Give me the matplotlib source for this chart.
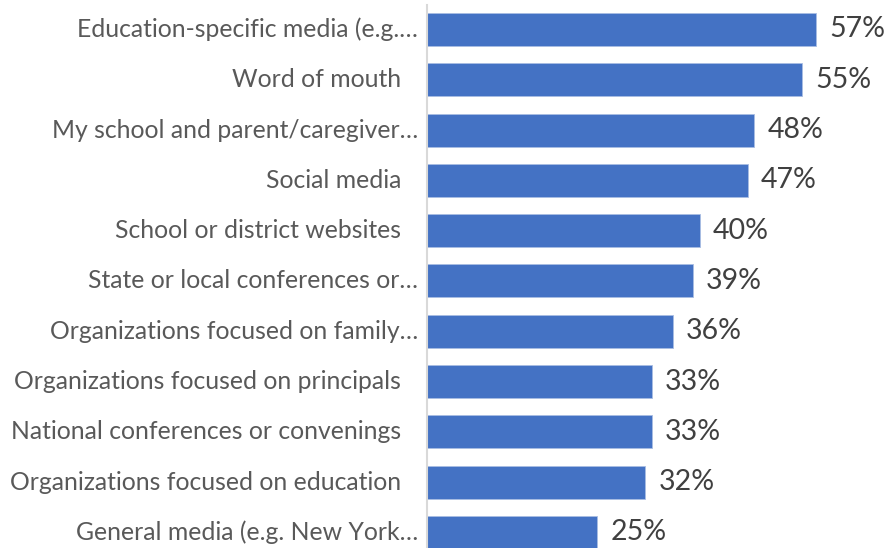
import matplotlib
matplotlib.use("Agg")
import matplotlib.pyplot as plt
from matplotlib.transforms import offset_copy

categories = [
    "Education-specific media (e.g.…",
    "Word of mouth ",
    "My school and parent/caregiver…",
    "Social media ",
    "School or district websites ",
    "State or local conferences or…",
    "Organizations focused on family…",
    "Organizations focused on principals ",
    "National conferences or convenings ",
    "Organizations focused on education ",
    "General media (e.g. New York…",
]
values = [57, 55, 48, 47, 40, 39, 36, 33, 33, 32, 25]

plt.rcParams['font.family'] = ['Lato', 'DejaVu Sans']

fig = plt.figure(figsize=(8.88, 5.48), dpi=100)
ax = fig.add_axes([427/888, 0, 1 - 427/888, 543/548])

y = list(range(len(categories)))
ax.barh(y, values, height=0.656, color="#4472C4", edgecolor="#A9BDE3", linewidth=0.6)
ax.set_ylim(10.31, -0.487)
ax.set_xlim(0, 67.6)

for yi, v in zip(y, values):
    ax.annotate(f"{v}%", (v, yi), xytext=(9.5, 0), textcoords="offset points",
                ha="left", va="center", fontsize=20.5, color="#404040")

trans = ax.get_yaxis_transform()
for yi, lab in zip(y, categories):
    pad_px = 9 + (17 if lab.endswith(" ") else 0)
    t = offset_copy(trans, fig=fig, x=-pad_px, y=0, units="dots")
    ax.text(0, yi, lab.strip(), transform=t, ha="right", va="center",
            fontsize=17.8, color="#595959")

ax.set_yticks([])
ax.set_xticks([])
for s in ["top", "right", "bottom"]:
    ax.spines[s].set_visible(False)
ax.spines["left"].set_color("#D9D9D9")
ax.spines["left"].set_linewidth(1.5)

fig.savefig("out.png", dpi=100)
